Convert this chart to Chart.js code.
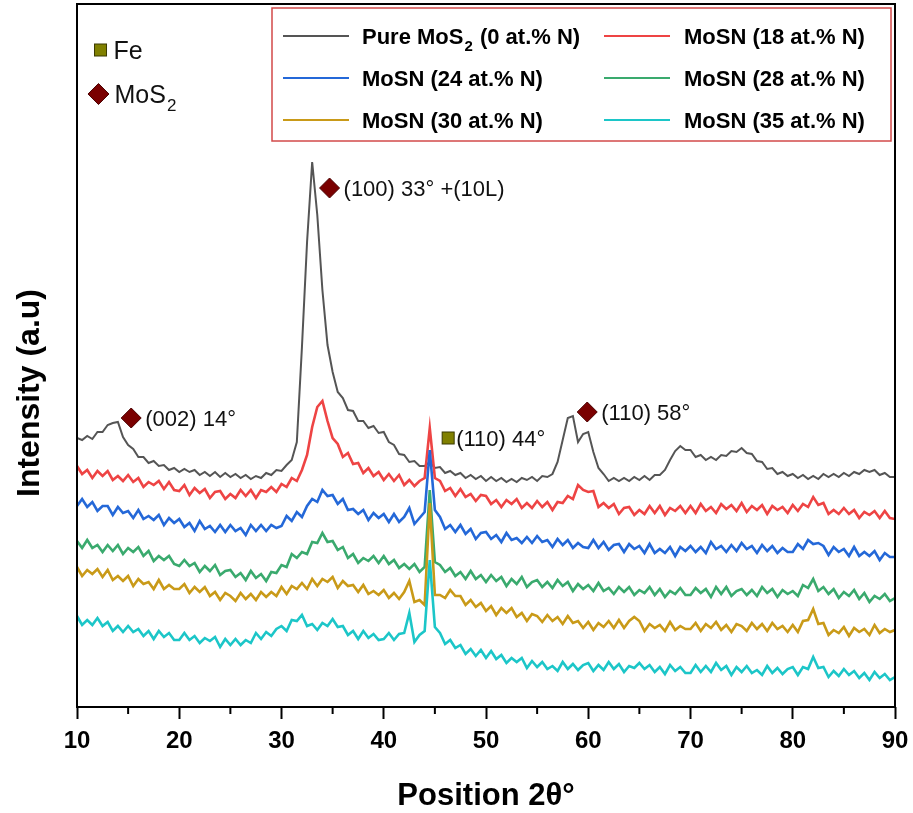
<!DOCTYPE html>
<html>
<head>
<meta charset="utf-8">
<script src="https://cdn.jsdelivr.net/npm/chart.js@4.4.0/dist/chart.umd.min.js"></script>
<style>
    html, body { margin: 0; padding: 0; background: #fff; }
    #grafico { display: block; }
</style>
</head>
<body>
<canvas id="grafico" width="913" height="813"></canvas>
<script>
let fonte = "'Liberation Sans', Arial, sans-serif";

// eixo 2θ de 10 a 90 em passos de 0,5°
let angulos = [];
for (let a = 10; a <= 90; a += 0.5) angulos.push(a);

let ticksX = [10, 20, 30, 40, 50, 60, 70, 80, 90];
let ticksMenores = [15, 25, 35, 45, 55, 65, 75, 85];

let nomes = [
    "Pure MoS2 (0 at.% N)",
    "MoSN (18 at.% N)",
    "MoSN (24 at.% N)",
    "MoSN (28 at.% N)",
    "MoSN (30 at.% N)",
    "MoSN (35 at.% N)"
];
let cores = ["#555555", "#ee4444", "#2468d8", "#3aaa6e", "#c99a18", "#1cc6c8"];

// intensidades (u.a., já deslocadas como no gráfico)
let puroMoS2 = [
    269, 267, 271, 268, 275, 275, 282, 284, 285, 270, 262, 258, 250, 250, 244, 246, 241, 242, 237, 239,
    235, 238, 235, 237, 232, 235, 231, 235, 230, 234, 230, 233, 229, 232, 228, 231, 229, 234, 232, 237,
    236, 242, 247, 265, 360, 465, 545, 492, 417, 362, 335, 315, 309, 297, 296, 286, 286, 279, 281, 274,
    275, 265, 262, 253, 252, 245, 246, 241, 241, 245, 239, 240, 234, 236, 232, 234, 229, 232, 228, 231,
    226, 230, 226, 229, 225, 228, 225, 229, 227, 230, 226, 231, 230, 233, 245, 267, 289, 291, 265, 273,
    275, 255, 239, 233, 226, 229, 226, 229, 226, 230, 227, 231, 227, 232, 232, 237, 247, 256, 261, 257,
    257, 250, 252, 247, 250, 247, 252, 251, 256, 255, 259, 254, 253, 246, 245, 238, 239, 233, 235, 231,
    233, 229, 232, 228, 231, 228, 233, 230, 233, 230, 234, 231, 235, 233, 237, 235, 237, 232, 234, 230, 230
];
let mosn18 = [
    241, 233, 237, 229, 236, 231, 236, 227, 231, 226, 232, 225, 229, 220, 225, 222, 226, 218, 225, 217,
    216, 222, 212, 219, 214, 218, 209, 215, 216, 208, 213, 209, 217, 211, 217, 209, 217, 215, 220, 215,
    223, 220, 229, 226, 237, 252, 280, 300, 306, 286, 269, 263, 250, 254, 243, 244, 234, 239, 231, 235,
    227, 233, 226, 232, 222, 227, 221, 226, 229, 279, 229, 226, 216, 219, 211, 218, 210, 213, 206, 212,
    211, 203, 207, 200, 207, 203, 208, 199, 204, 199, 206, 200, 205, 197, 205, 204, 211, 208, 222, 217,
    215, 216, 200, 204, 199, 203, 193, 199, 200, 192, 197, 193, 201, 194, 201, 192, 199, 196, 201, 194,
    201, 194, 203, 196, 200, 194, 203, 198, 202, 196, 204, 195, 201, 197, 202, 193, 201, 197, 200, 194,
    202, 196, 203, 200, 210, 202, 204, 193, 197, 193, 199, 193, 197, 189, 195, 192, 196, 189, 196, 189, 188
];
let mosn24 = [
    201, 208, 200, 205, 196, 201, 201, 192, 200, 194, 196, 189, 197, 188, 191, 187, 192, 182, 189, 184,
    188, 180, 184, 176, 186, 178, 181, 175, 182, 175, 182, 176, 179, 172, 182, 176, 182, 176, 182, 179,
    181, 191, 186, 195, 190, 201, 208, 205, 217, 211, 212, 203, 208, 197, 198, 193, 197, 187, 194, 189,
    193, 185, 193, 185, 190, 199, 183, 189, 195, 257, 197, 190, 178, 182, 175, 182, 173, 178, 168, 174,
    175, 168, 172, 165, 174, 167, 169, 164, 170, 164, 171, 165, 167, 160, 168, 162, 167, 159, 164, 160,
    159, 167, 159, 165, 157, 162, 163, 155, 163, 158, 161, 154, 163, 154, 158, 154, 160, 151, 160, 156,
    161, 155, 160, 154, 165, 158, 161, 155, 162, 156, 164, 158, 161, 154, 162, 156, 161, 154, 159, 155,
    155, 163, 158, 167, 163, 164, 161, 152, 160, 155, 158, 151, 160, 151, 155, 151, 156, 147, 154, 150, 150
];
let mosn28 = [
    166, 159, 167, 159, 162, 155, 162, 156, 162, 153, 159, 155, 160, 151, 156, 146, 151, 147, 151, 143,
    141, 147, 141, 144, 135, 141, 136, 142, 132, 136, 137, 130, 134, 127, 136, 129, 133, 126, 135, 134,
    142, 140, 153, 149, 155, 153, 165, 164, 174, 165, 166, 157, 160, 149, 153, 144, 149, 146, 151, 144,
    151, 143, 147, 139, 143, 138, 143, 135, 140, 217, 145, 142, 135, 139, 131, 135, 128, 136, 128, 132,
    125, 132, 126, 130, 121, 128, 123, 130, 120, 125, 127, 120, 125, 119, 127, 121, 125, 116, 123, 118,
    122, 116, 124, 116, 119, 113, 120, 115, 120, 112, 117, 114, 120, 112, 118, 110, 116, 113, 119, 112,
    112, 119, 114, 118, 110, 120, 113, 120, 111, 116, 118, 112, 117, 111, 120, 114, 118, 110, 117, 113,
    116, 111, 122, 119, 128, 116, 120, 113, 118, 109, 115, 111, 117, 108, 114, 105, 111, 108, 113, 106, 109
];
let mosn30 = [
    140, 131, 137, 133, 138, 130, 137, 127, 131, 126, 131, 121, 128, 123, 125, 118, 127, 118, 122, 118,
    118, 123, 114, 120, 115, 120, 111, 115, 107, 114, 111, 106, 114, 108, 113, 107, 115, 110, 115, 111,
    120, 113, 121, 118, 124, 118, 128, 121, 128, 125, 130, 119, 126, 121, 122, 115, 122, 113, 116, 112,
    117, 109, 114, 108, 115, 126, 105, 107, 102, 204, 112, 112, 109, 117, 111, 111, 102, 107, 100, 104,
    96, 101, 92, 99, 94, 99, 90, 94, 86, 93, 91, 85, 92, 86, 90, 83, 91, 84, 86, 79,
    85, 77, 84, 80, 86, 79, 87, 79, 86, 90, 86, 76, 83, 79, 82, 76, 85, 77, 81, 78,
    78, 84, 76, 83, 79, 85, 77, 82, 75, 83, 81, 76, 84, 78, 83, 76, 84, 78, 81, 75,
    82, 75, 86, 87, 98, 83, 84, 72, 77, 74, 80, 71, 79, 75, 78, 72, 82, 74, 78, 75, 77
];
let mosn35 = [
    91, 82, 87, 82, 89, 81, 85, 76, 81, 75, 81, 75, 78, 71, 76, 68, 76, 70, 74, 67,
    67, 74, 67, 71, 64, 69, 66, 70, 60, 68, 62, 68, 62, 67, 64, 74, 68, 75, 71, 78,
    81, 76, 87, 86, 92, 81, 83, 77, 84, 81, 88, 80, 81, 72, 76, 68, 76, 69, 73, 67,
    68, 74, 67, 73, 74, 94, 65, 72, 76, 147, 80, 74, 63, 67, 59, 62, 53, 58, 51, 57,
    49, 56, 48, 52, 44, 49, 45, 49, 39, 46, 40, 45, 38, 41, 36, 45, 38, 43, 37, 42,
    44, 36, 42, 37, 45, 38, 43, 35, 41, 39, 44, 38, 42, 35, 40, 33, 42, 36, 40, 34,
    34, 42, 35, 41, 35, 44, 37, 41, 32, 40, 35, 41, 34, 37, 32, 41, 34, 39, 33, 38,
    40, 32, 40, 38, 50, 39, 40, 30, 36, 31, 38, 32, 36, 29, 34, 27, 35, 29, 33, 27, 30
];
let series = [puroMoS2, mosn18, mosn24, mosn28, mosn30, mosn35];

// marcações dos picos (posição em 2θ e intensidade)
let picos = [
    { x: 15.3, y: 289, marca: "losango", texto: "(002) 14°" },
    { x: 34.7, y: 519, marca: "losango", texto: "(100) 33° +(10L)" },
    { x: 46.3, y: 269, marca: "quadrado", texto: "(110) 44°" },
    { x: 59.9, y: 295, marca: "losango", texto: "(110) 58°" }
];
let fases = [
    { x: 12.3, y: 657, marca: "quadrado", texto: "Fe" },
    { x: 12.1, y: 613, marca: "losango", texto: "MoS2" }
];

let tituloX = "Position 2θ°";
let tituloY = "Intensity (a.u)";

// escreve "MoS2" com o 2 subscrito
function escrever(ctx, texto, x, base, tamanho, peso) {
    let partes = texto.split("MoS2");
    let cx = x;
    partes.forEach((parte, i) => {
        ctx.font = `${peso} ${tamanho}px ${fonte}`;
        ctx.fillText(parte, cx, base);
        cx += ctx.measureText(parte).width;
        if (i < partes.length - 1) {
            ctx.fillText("MoS", cx, base);
            cx += ctx.measureText("MoS").width;
            ctx.font = `${peso} ${Math.round(tamanho * 0.68)}px ${fonte}`;
            ctx.fillText("2", cx + 1, base + tamanho * 0.3);
            cx += ctx.measureText("2").width + 2;
        }
    });
}

function marcador(ctx, tipo, x, y, tam) {
    ctx.lineWidth = 1;
    if (tipo === "losango") {
        ctx.fillStyle = "#7a0000";
        ctx.strokeStyle = "#4a0000";
        ctx.beginPath();
        ctx.moveTo(x, y - tam / 2);
        ctx.lineTo(x + tam / 2, y);
        ctx.lineTo(x, y + tam / 2);
        ctx.lineTo(x - tam / 2, y);
        ctx.closePath();
        ctx.fill();
        ctx.stroke();
    } else {
        ctx.fillStyle = "#808000";
        ctx.strokeStyle = "#3a3a00";
        ctx.fillRect(x - tam / 2, y - tam / 2, tam, tam);
        ctx.strokeRect(x - tam / 2, y - tam / 2, tam, tam);
    }
}

let extras = {
    id: "extras",
    afterDraw(chart) {
        let ctx = chart.ctx;
        let area = chart.chartArea;
        let sx = chart.scales.x;
        let sy = chart.scales.y;
        ctx.save();

        // moldura e ticks menores
        ctx.strokeStyle = "#000";
        ctx.lineWidth = 2;
        ctx.strokeRect(area.left, area.top, area.right - area.left, area.bottom - area.top);
        ticksMenores.forEach(v => {
            let px = sx.getPixelForValue(v);
            ctx.beginPath();
            ctx.moveTo(px, area.bottom);
            ctx.lineTo(px, area.bottom + 7);
            ctx.stroke();
        });

        // título do eixo y
        ctx.save();
        ctx.translate(30, 393);
        ctx.rotate(-Math.PI / 2);
        ctx.fillStyle = "#000";
        ctx.font = `bold 32px ${fonte}`;
        ctx.textAlign = "center";
        ctx.textBaseline = "middle";
        ctx.fillText(tituloY, 0, 0);
        ctx.restore();

        // picos
        ctx.textBaseline = "alphabetic";
        picos.forEach(p => {
            let px = sx.getPixelForValue(p.x);
            let py = sy.getPixelForValue(p.y);
            let losango = p.marca === "losango";
            marcador(ctx, p.marca, px, py, losango ? 20 : 12);
            ctx.fillStyle = "#111";
            escrever(ctx, p.texto, px + (losango ? 14 : 8), py + 8, 22, "normal");
        });

        // legenda das fases
        fases.forEach(f => {
            let px = sx.getPixelForValue(f.x);
            let py = sy.getPixelForValue(f.y);
            let losango = f.marca === "losango";
            marcador(ctx, f.marca, px, py, losango ? 21 : 12);
            ctx.fillStyle = "#111";
            escrever(ctx, f.texto, px + (losango ? 16 : 13), py + 9, 25, "normal");
        });

        // legenda das amostras
        let bx = area.left + 195;
        let by = area.top + 4;
        ctx.strokeStyle = "#d24a4a";
        ctx.lineWidth = 1.5;
        ctx.strokeRect(bx, by, 619, 133);
        nomes.forEach((nome, i) => {
            let col = i % 2;
            let lin = Math.floor(i / 2);
            let ly = by + 28 + lin * 42;
            let lx = bx + (col === 0 ? 11 : 332);
            ctx.strokeStyle = cores[i];
            ctx.lineWidth = 2;
            ctx.beginPath();
            ctx.moveTo(lx, ly);
            ctx.lineTo(lx + 66, ly);
            ctx.stroke();
            ctx.fillStyle = "#000";
            escrever(ctx, nome, lx + (col === 0 ? 79 : 80), ly + 8, 22, "bold");
        });

        ctx.restore();
    }
};

new Chart(document.getElementById("grafico"), {
    type: "line",
    data: {
        datasets: series.map((valores, i) => ({
            label: nomes[i],
            data: valores.map((v, j) => ({ x: angulos[j], y: v })),
            borderColor: cores[i],
            backgroundColor: "transparent",
            borderWidth: i === 0 ? 2 : 2.6,
            pointRadius: 0,
            tension: 0,
            order: series.length - i
        }))
    },
    options: {
        responsive: false,
        devicePixelRatio: 1,
        animation: false,
        layout: { padding: { top: 4, right: 18, left: 0, bottom: 0 } },
        plugins: {
            legend: { display: false },
            tooltip: { enabled: false }
        },
        scales: {
            x: {
                type: "linear",
                min: 10,
                max: 90,
                afterFit: s => {
                    s.height = 106;
                    s.paddingLeft = 0;
                    s.paddingRight = 0;
                },
                afterBuildTicks: s => { s.ticks = ticksX.map(v => ({ value: v })); },
                ticks: {
                    color: "#000",
                    padding: 8,
                    font: { family: fonte, size: 24, weight: "bold" }
                },
                grid: {
                    drawOnChartArea: false,
                    tickLength: 12,
                    tickWidth: 2,
                    tickColor: "#000"
                },
                border: { display: false },
                title: {
                    display: true,
                    text: tituloX,
                    color: "#000",
                    font: { family: fonte, size: 31, weight: "bold", lineHeight: 1 },
                    padding: { top: 0, bottom: 1 }
                }
            },
            y: {
                min: 0,
                max: 703,
                afterFit: s => { s.width = 77; },
                ticks: { display: false },
                grid: { display: false },
                border: { display: false }
            }
        }
    },
    plugins: [extras]
});
</script>
</body>
</html>
